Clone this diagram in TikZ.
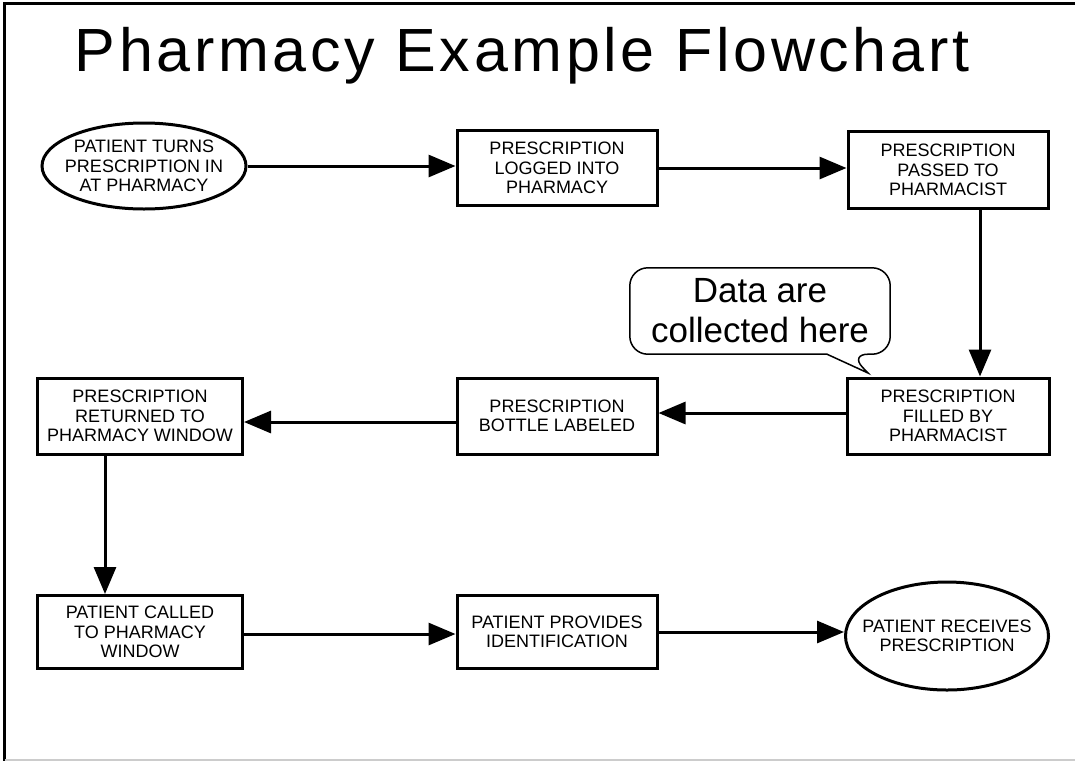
\documentclass[tikz,border=0pt]{standalone}
\usepackage{fontspec}
\setmainfont{Liberation Sans}
\newfontfamily\titlefont[LetterSpace=6]{Liberation Sans}
\usetikzlibrary{shapes.geometric,arrows.meta}
\begin{document}
\begin{tikzpicture}[x=1pt,y=-1pt,
  boxtext/.style={align=center,inner sep=0pt,font=\fontsize{18}{19.5}\selectfont},
  boxstyle/.style={draw,line width=3pt,rectangle,boxtext},
  ovalstyle/.style={draw,line width=3pt,ellipse,inner sep=0pt},
  flow/.style={line width=3pt,-{Triangle[length=27pt,width=22pt]}},
  notestyle/.style={draw,line width=1.5pt}]
\useasboundingbox (0,0) rectangle (1075,761);
\fill[white] (0,0) rectangle (1075,761);
\draw[line width=3pt] (1075,3) -- (4.5,3) -- (4.5,761);
\draw[gray!40,line width=1.5pt] (4.5,760) -- (1075,760);

\node[font=\titlefont\fontsize{61}{64}\selectfont] (title) at (522,56) {Pharmacy Example Flowchart};

\node[ovalstyle,minimum width=204pt,minimum height=86pt] (e1) at (144,166) {};
\node[boxtext] (e1text) at (e1.center) {PATIENT TURNS\\PRESCRIPTION IN\\AT PHARMACY};
\node[boxstyle,minimum width=200pt,minimum height=75pt] (b2) at (557,168) {PRESCRIPTION\\LOGGED INTO\\PHARMACY};
\node[boxstyle,minimum width=200pt,minimum height=77pt] (b3) at (948,170) {PRESCRIPTION\\PASSED TO\\PHARMACIST};
\node[boxstyle,minimum width=202pt,minimum height=76pt] (b5) at (948,416) {PRESCRIPTION\\FILLED BY\\PHARMACIST};
\node[boxstyle,minimum width=200pt,minimum height=76pt] (b6) at (557,416) {PRESCRIPTION\\BOTTLE LABELED};
\node[boxstyle,minimum width=205pt,minimum height=76pt] (b7) at (140,416) {PRESCRIPTION\\RETURNED TO\\PHARMACY WINDOW};
\node[boxstyle,minimum width=205pt,minimum height=73pt] (b8) at (140,632) {PATIENT CALLED\\TO PHARMACY\\WINDOW};
\node[boxstyle,minimum width=200pt,minimum height=73pt] (b9) at (557,632) {PATIENT PROVIDES\\IDENTIFICATION};
\node[ovalstyle,minimum width=203pt,minimum height=108pt] (e10) at (947,636) {};
\node[boxtext] (e10text) at (e10.center) {PATIENT RECEIVES\\PRESCRIPTION};

% callout
\node[minimum width=260pt,minimum height=86pt,inner sep=0pt,align=center,
  font=\fontsize{35}{40}\selectfont] (note) at (760,311) {Data are\\collected here};
\coordinate (tip) at (868,373);
\draw[notestyle,rounded corners=18pt] (note.north west) -- (note.north east) -- (note.south east)
  -- ([xshift=90pt]note.south) [sharp corners] -- (tip) -- ([xshift=67pt]note.south)
  [rounded corners=18pt] -- (note.south west) -- cycle;

\draw[flow] (e1.east) -- (e1.east -| b2.west);
\draw[flow] (b2.east) -- (b2.east -| b3.west);
\draw[flow] ([xshift=32pt]b3.south) -- ([xshift=32pt]b5.north);
\draw[flow] ([yshift=3pt]b5.west) -- ([yshift=3pt]b6.east);
\draw[flow] ([yshift=-6pt]b6.west) -- ([yshift=-6pt]b7.east);
\draw[flow] ([xshift=-35pt]b7.south) -- ([xshift=-35pt]b8.north);
\draw[flow] ([yshift=-2pt]b8.east) -- ([yshift=-2pt]b9.west);
\draw[flow] (b9.east) -- (b9.east -| e10.west);
\end{tikzpicture}
\end{document}
